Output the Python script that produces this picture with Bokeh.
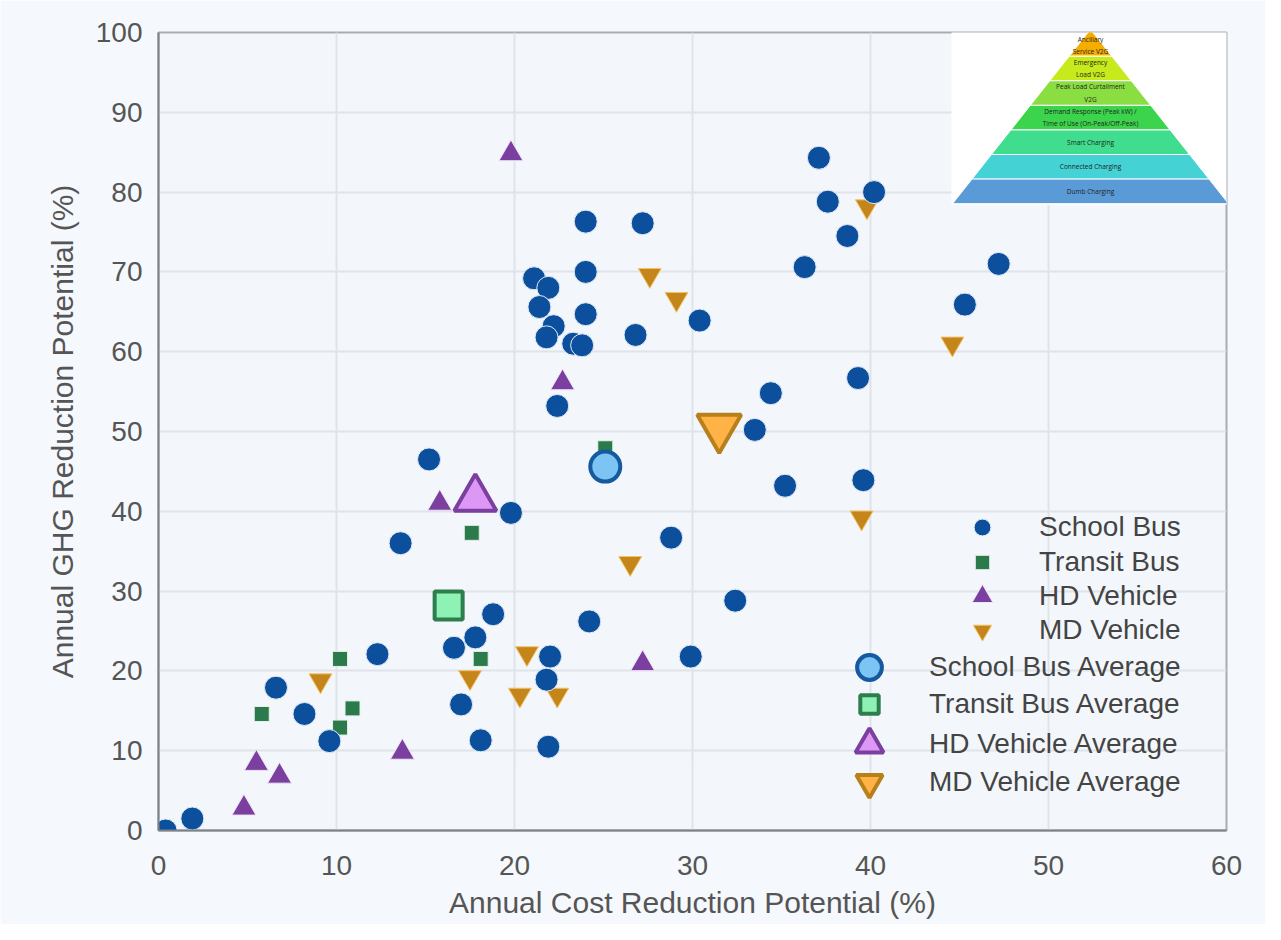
from bokeh.plotting import figure
from bokeh.models import Legend, LegendItem, FixedTicker
from bokeh.embed import file_html
from bokeh.resources import INLINE
from bokeh.core.properties import value

# ---------------- data ----------------
series_names = ["School Bus", "Transit Bus", "HD Vehicle", "MD Vehicle"]
average_names = ["School Bus Average", "Transit Bus Average",
                 "HD Vehicle Average", "MD Vehicle Average"]

school_x = [0.4, 1.9, 6.6, 8.2, 9.6, 12.3, 13.6, 15.2, 16.6, 17.0, 17.8, 18.1,
            18.8, 19.8, 22.0, 21.8, 21.9, 21.1, 21.9, 21.4, 22.2, 21.8, 23.3,
            23.8, 24.0, 24.0, 24.0, 27.2, 26.8, 30.4, 22.4, 24.2, 28.8, 29.9,
            32.4, 33.5, 34.4, 35.2, 36.3, 37.1, 37.6, 38.7, 39.3, 39.6, 40.2,
            45.3, 47.2]
school_y = [0.0, 1.5, 17.9, 14.6, 11.2, 22.1, 36.0, 46.5, 22.9, 15.8, 24.2, 11.3,
            27.1, 39.8, 21.8, 18.9, 10.5, 69.2, 68.0, 65.6, 63.2, 61.8, 61.0,
            60.8, 64.7, 70.0, 76.3, 76.1, 62.1, 63.9, 53.2, 26.2, 36.7, 21.8,
            28.8, 50.2, 54.8, 43.2, 70.6, 84.3, 78.8, 74.5, 56.7, 43.9, 80.0,
            65.9, 71.0]

transit_x = [5.8, 10.2, 10.9, 10.2, 17.6, 18.1, 25.1]
transit_y = [14.6, 21.5, 15.3, 12.9, 37.3, 21.5, 47.9]

hd_x = [4.8, 5.5, 6.8, 13.7, 15.8, 19.8, 22.7, 27.2]
hd_y = [2.8, 8.4, 6.8, 9.8, 41.0, 84.8, 56.1, 20.9]

md_x = [9.1, 17.5, 20.7, 20.3, 22.4, 26.5, 27.6, 29.1, 39.5, 39.8, 44.6]
md_y = [18.8, 19.2, 22.2, 17.0, 17.0, 33.5, 69.6, 66.6, 39.2, 78.2, 61.0]

avg_x = [25.1, 16.3, 17.8, 31.5]
avg_y = [45.6, 28.2, 41.6, 50.5]

x_ticks = [0, 10, 20, 30, 40, 50, 60]
y_ticks = [0, 10, 20, 30, 40, 50, 60, 70, 80, 90, 100]

pyramid_labels = ["Ancillary\nService V2G", "Emergency\nLoad V2G",
                  "Peak Load Curtailment\nV2G",
                  "Demand Response (Peak kW) /\nTime of Use (On-Peak/Off-Peak)",
                  "Smart Charging", "Connected Charging", "Dumb Charging"]
pyramid_colors = ["#f5ad00", "#c6ea1c", "#8ade42", "#3cd44c",
                  "#40dd8e", "#44d2d4", "#5a9ad6"]

# ---------------- figure ----------------
FONT = "Liberation Sans"
FW, FH = 1068, 798
p = figure(frame_width=FW, frame_height=FH,
           x_range=(0, 60), y_range=(0, 100),
           output_backend="svg", toolbar_location=None,
           min_border_left=158, min_border_top=32,
           min_border_right=39, min_border_bottom=94,
           background_fill_color="#f3f7fb", border_fill_color="#f5f8fc")

p.outline_line_color = "#a9adb2"
p.outline_line_width = 2

p.xaxis.ticker = FixedTicker(ticks=x_ticks)
p.yaxis.ticker = FixedTicker(ticks=y_ticks)
p.xaxis.axis_label = "Annual Cost Reduction Potential (%)"
p.yaxis.axis_label = "Annual GHG Reduction Potential (%)"
for ax in (p.xaxis, p.yaxis):
    ax.axis_label_text_font = FONT
    ax.axis_label_text_font_size = "30px"
    ax.axis_label_text_font_style = "normal"
    ax.axis_label_text_color = "#555555"
    ax.major_label_text_font = FONT
    ax.major_label_text_font_size = "28px"
    ax.major_label_text_color = "#555555"
    ax.major_tick_line_color = None
    ax.minor_tick_line_color = None
    ax.major_tick_out = 0
    ax.major_tick_in = 0
    ax.minor_tick_out = 0
    ax.minor_tick_in = 0
    ax.axis_line_color = "#7d8288"
    ax.axis_line_width = 2
p.xaxis.major_label_standoff = 25
p.yaxis.major_label_standoff = 16
p.xaxis.axis_label_standoff = 8
p.yaxis.axis_label_standoff = 14

p.grid.grid_line_color = "#dfe4ea"
p.grid.grid_line_width = 2

# ---------------- inset pyramid (decoration in top-right corner) ----------------
box_l, box_r, box_b, box_t = 44.55, 60.3, 78.4, 100.6
apex_x, apex_y = 52.36, 100.4
base_y, base_half = 78.55, 7.75
layer_h = 3.08
p.quad(left=[box_l], right=[box_r], bottom=[box_b], top=[box_t],
       fill_color="white", line_color=None)

n = len(pyramid_labels)
def half_w(y):
    return base_half * (apex_y - y) / (apex_y - base_y)

xs, ys, tx, ty = [], [], [], []
for i in range(n):
    k = n - 1 - i  # 0 = bottom layer
    y0 = base_y + k * layer_h
    y1 = apex_y if i == 0 else base_y + (k + 1) * layer_h
    w0, w1 = half_w(y0), half_w(y1)
    xs.append([apex_x - w0, apex_x + w0, apex_x + w1, apex_x - w1])
    ys.append([y0, y0, y1, y1])
    tx.append(apex_x)
    ty.append((y0 + y1) / 2 - (0.35 if i == 0 else 0))
p.patches(xs, ys, fill_color=pyramid_colors, line_color="white", line_width=1)
p.text(x=tx, y=ty, text=pyramid_labels, text_font=value("Open Sans"),
       text_font_size="6.5px", text_align="center", text_baseline="middle",
       text_color="#1e1e1e", text_line_height=1.35)

# ---------------- data marks ----------------
r_tr = p.scatter(transit_x, transit_y, marker="square", size=15,
                 fill_color="#2b7a4b", line_color="#e6f0ea", line_width=1)
r_hd = p.scatter(hd_x, hd_y, marker="triangle", size=24,
                 fill_color="#7b3f9f", line_color="#efe6f5", line_width=1)
r_md = p.scatter(md_x, md_y, marker="inverted_triangle", size=23,
                 fill_color="#c4861a", line_color="#f3c46a", line_width=1)

r_tr_avg = p.scatter([avg_x[1]], [avg_y[1]], marker="square", size=28,
                     fill_color="#8ef2b4", line_color="#2e7d4f", line_width=4)
r_hd_avg = p.scatter([avg_x[2]], [avg_y[2]], marker="triangle", size=42,
                     fill_color="#dc98f4", line_color="#7b3f9f", line_width=4)
r_md_avg = p.scatter([avg_x[3]], [avg_y[3]], marker="inverted_triangle", size=44,
                     fill_color="#ffb347", line_color="#b8801a", line_width=4)

r_sb = p.scatter(school_x, school_y, marker="circle", size=23,
                 fill_color="#0c4f9c", line_color="#e3ecf8", line_width=1)
r_sb_avg = p.scatter([avg_x[0]], [avg_y[0]], marker="circle", size=30,
                     fill_color="#7cc4f4", line_color="#15599f", line_width=4)

# ---------------- legend (one single-item Legend per entry, right-aligned look) ----
legend_entries = [
    # renderer, label, glyph box, glyph centre x, row centre y from frame top, label offset
    (r_sb, series_names[0], 42, 824, 495, 57),
    (r_tr, series_names[1], 36, 824, 530, 57),
    (r_hd, series_names[2], 52, 824, 564, 57),
    (r_md, series_names[3], 46, 824, 598, 57),
    (r_sb_avg, average_names[0], 62, 711, 635, 60),
    (r_tr_avg, average_names[1], 46, 711, 672, 60),
    (r_hd_avg, average_names[2], 70, 711, 712, 60),
    (r_md_avg, average_names[3], 66, 711, 750, 60),
]
for rend, label, g, gx, gy, off in legend_entries:
    half = g // 2
    leg = Legend(items=[LegendItem(label=label, renderers=[rend])],
                 location=(gx - half, FH - gy - half),
                 orientation="vertical", padding=0, margin=0, spacing=0,
                 glyph_width=g, glyph_height=g, label_height=g,
                 label_standoff=off - half,
                 border_line_alpha=0, background_fill_alpha=0,
                 label_text_font=FONT, label_text_font_size="28px",
                 label_text_color="#444444")
    p.add_layout(leg)

open("out.html", "w").write(file_html(p, INLINE))
